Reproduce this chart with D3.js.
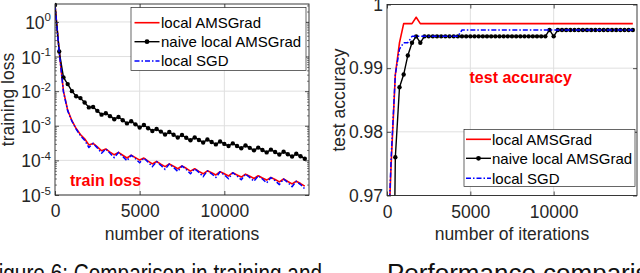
<!DOCTYPE html>
<html>
<head>
<meta charset="utf-8">
<script src="https://cdn.jsdelivr.net/npm/d3@7/dist/d3.min.js"></script>
<style>
  body { margin: 0; background: #fff; }
  text { font-family: "Liberation Sans", Arial, Helvetica, sans-serif; }
</style>
</head>
<body>
<svg id="fig" width="640" height="273"></svg>
<script>
// iterations where loss / accuracy were recorded
const iterations = [0, 250, 500, 750, 1000, 1250, 1500, 1750, 2000, 2250,
  2500, 2750, 3000, 3250, 3500, 3750, 4000, 4250, 4500, 4750,
  5000, 5250, 5500, 5750, 6000, 6250, 6500, 6750, 7000, 7250,
  7500, 7750, 8000, 8250, 8500, 8750, 9000, 9250, 9500, 9750,
  10000, 10250, 10500, 10750, 11000, 11250, 11500, 11750, 12000, 12250,
  12500, 12750, 13000, 13250, 13500, 13750, 14000, 14250, 14500, 14750];

// training loss
const lossLocalAMSGrad = [3.1, 0.14, 0.010, 0.0028, 0.0014, 8.3e-4, 5.6e-4, 4.2e-4, 2.8e-4, 3.1e-4,
  2.45e-4, 1.9e-4, 2.14e-4, 1.74e-4, 1.45e-4, 1.7e-4, 1.41e-4, 1.17e-4, 1.41e-4, 1.2e-4,
  1.02e-4, 1.17e-4, 9.5e-5, 7.9e-5, 9.3e-5, 7.8e-5, 6.6e-5, 7.9e-5, 6.8e-5, 5.75e-5,
  6.9e-5, 5.9e-5, 4.9e-5, 5.75e-5, 4.8e-5, 4.1e-5, 5.0e-5, 4.4e-5, 3.8e-5, 4.7e-5,
  4.1e-5, 3.55e-5, 4.4e-5, 3.8e-5, 3.3e-5, 4.0e-5, 3.5e-5, 3.0e-5, 3.6e-5, 3.1e-5,
  2.7e-5, 3.2e-5, 2.8e-5, 2.4e-5, 2.9e-5, 2.45e-5, 2.1e-5, 2.5e-5, 2.14e-5, 1.8e-5];
const lossNaiveAMSGrad = [3.1, 0.14, 0.025, 0.016, 0.010, 0.0071, 0.0063, 0.0047, 0.0034, 0.0035,
  0.0027, 0.0021, 0.0023, 0.0019, 0.00155, 0.0018, 0.00145, 0.00117, 0.00135, 0.0011,
  0.00089, 0.00105, 0.00085, 0.00071, 0.00081, 0.00068, 0.00056, 0.00066, 0.00055, 0.00046,
  0.00054, 0.00045, 0.00038, 0.00046, 0.00039, 0.00033, 0.00040, 0.00034, 0.00029, 0.00035,
  0.00030, 0.00026, 0.00031, 0.00026, 0.000224, 0.00027, 0.00023, 0.000195, 0.000234, 0.00020,
  0.00017, 0.000204, 0.000174, 0.000148, 0.000178, 0.000151, 0.000129, 0.000155, 0.000132, 0.000112];
const lossLocalSGD = [3.1, 0.13, 0.0095, 0.0027, 1.35e-3, 8.0e-4, 5.2e-4, 3.8e-4, 2.35e-4, 3.1e-4,
  2.3e-4, 1.6e-4, 2.14e-4, 1.6e-4, 1.2e-4, 1.7e-4, 1.3e-4, 9.8e-5, 1.41e-4, 1.12e-4,
  8.5e-5, 1.17e-4, 8.9e-5, 6.6e-5, 9.3e-5, 7.2e-5, 5.5e-5, 7.9e-5, 6.3e-5, 4.8e-5,
  6.9e-5, 5.5e-5, 4.1e-5, 5.75e-5, 4.5e-5, 3.4e-5, 5.0e-5, 4.1e-5, 3.2e-5, 4.7e-5,
  3.8e-5, 2.95e-5, 4.4e-5, 3.55e-5, 2.75e-5, 4.0e-5, 3.2e-5, 2.5e-5, 3.6e-5, 2.9e-5,
  2.24e-5, 3.2e-5, 2.6e-5, 2.0e-5, 2.9e-5, 2.3e-5, 1.74e-5, 2.5e-5, 2.0e-5, 1.5e-5];

// test accuracy
const accLocalAMSGrad = [0.958, 0.975, 0.989, 0.994, 0.997, 0.997, 0.997, 0.998, 0.997, 0.997,
  0.997, 0.997, 0.997, 0.997, 0.997, 0.997, 0.997, 0.997, 0.997, 0.997,
  0.997, 0.997, 0.997, 0.997, 0.997, 0.997, 0.997, 0.997, 0.997, 0.997,
  0.997, 0.997, 0.997, 0.997, 0.997, 0.997, 0.997, 0.997, 0.997, 0.997,
  0.997, 0.997, 0.997, 0.997, 0.997, 0.997, 0.997, 0.997, 0.997, 0.997,
  0.997, 0.997, 0.997, 0.997, 0.997, 0.997, 0.997, 0.997, 0.997, 0.997];
const accNaiveAMSGrad = [0.11, 0.92, 0.976, 0.987, 0.989, 0.992, 0.994, 0.995, 0.994, 0.995,
  0.995, 0.995, 0.995, 0.995, 0.995, 0.995, 0.995, 0.995, 0.995, 0.995,
  0.995, 0.995, 0.995, 0.995, 0.995, 0.995, 0.995, 0.995, 0.995, 0.995,
  0.995, 0.995, 0.995, 0.995, 0.995, 0.995, 0.995, 0.995, 0.995, 0.996,
  0.995, 0.996, 0.996, 0.996, 0.996, 0.996, 0.996, 0.996, 0.996, 0.996,
  0.996, 0.996, 0.996, 0.996, 0.996, 0.996, 0.996, 0.996, 0.996, 0.996];
const accLocalSGD = [0.958, 0.976, 0.989, 0.993, 0.994, 0.994, 0.995, 0.995, 0.995, 0.995,
  0.995, 0.995, 0.995, 0.995, 0.995, 0.995, 0.995, 0.995, 0.996, 0.996,
  0.996, 0.996, 0.996, 0.996, 0.996, 0.996, 0.996, 0.996, 0.996, 0.996,
  0.996, 0.996, 0.996, 0.996, 0.996, 0.996, 0.996, 0.996, 0.996, 0.996,
  0.996, 0.996, 0.996, 0.996, 0.996, 0.996, 0.996, 0.996, 0.996, 0.996,
  0.996, 0.996, 0.996, 0.996, 0.996, 0.996, 0.996, 0.996, 0.996, 0.996];

const seriesNames = ["local AMSGrad", "naive local AMSGrad", "local SGD"];
const iterTicks = [0, 5000, 10000];
const lossTicks = [1, 1e-1, 1e-2, 1e-3, 1e-4, 1e-5];
const lossTickExp = ["0", "-1", "-2", "-3", "-4", "-5"];
const accTicks = [0.97, 0.98, 0.99, 1];
const accTickLabels = ["0.97", "0.98", "0.99", "1"];

const svg = d3.select("#fig");
const axisColor = "#262626";
const gridColor = "#dfdfdf";
const fs = 17.5;
const styles = [
  { color: "#ff0000", dash: null, width: 1.6, marker: false },
  { color: "#000000", dash: null, width: 1.4, marker: true },
  { color: "#0000ff", dash: "5,2,1.5,2", width: 1.5, marker: false }
];

// scales
const xLoss = d3.scaleLinear().domain([0, 15000]).range([55, 309]);
const yLoss = d3.scaleLog().domain([1e-5, 3.3]).range([195, 4]);
const xAcc = d3.scaleLinear().domain([0, 15000]).range([387, 637]);
const yAcc = d3.scaleLinear().domain([0.97, 1]).range([195.5, 4.5]);

function drawPanel(id, x, y, yTickValues, yFormat, series) {
  const [left, right] = x.range();
  const [bottom, top] = y.range();
  const g = svg.append("g");

  g.append("clipPath").attr("id", id).append("rect")
    .attr("x", left).attr("y", top - 3).attr("width", right - left).attr("height", bottom - top + 3);

  // grid
  g.append("g").selectAll("line").data(iterTicks.filter(d => d > 0)).join("line")
    .attr("x1", d => x(d)).attr("x2", d => x(d)).attr("y1", top).attr("y2", bottom)
    .attr("stroke", gridColor).attr("stroke-width", 1);
  g.append("g").selectAll("line").data(yTickValues).join("line")
    .attr("x1", left).attr("x2", right).attr("y1", d => y(d)).attr("y2", d => y(d))
    .attr("stroke", gridColor).attr("stroke-width", 1);

  // series
  const line = d3.line().x((d, i) => x(iterations[i])).y(d => y(d));
  series.forEach((vals, k) => {
    const st = styles[k];
    const sg = g.append("g").attr("clip-path", `url(#${id})`);
    sg.append("path").datum(vals).attr("d", line)
      .attr("fill", "none").attr("stroke", st.color).attr("stroke-width", st.width)
      .attr("stroke-dasharray", st.dash).attr("stroke-linejoin", "round");
    if (st.marker) {
      sg.selectAll("circle").data(vals).join("circle")
        .attr("cx", (d, i) => x(iterations[i])).attr("cy", d => y(d))
        .attr("r", 2.2).attr("fill", st.color);
    }
  });

  // axes with inward ticks
  g.append("g").attr("transform", `translate(0,${bottom})`)
    .call(d3.axisBottom(x).tickValues(iterTicks).tickSize(-4).tickPadding(10).tickFormat(d3.format("d")));
  g.append("g").attr("transform", `translate(0,${top})`)
    .call(d3.axisTop(x).tickValues(iterTicks).tickSize(-4).tickFormat(""));
  g.append("g").attr("transform", `translate(${left},0)`)
    .call(d3.axisLeft(y).tickValues(yTickValues).tickSize(-4).tickPadding(4).tickFormat(yFormat));
  g.append("g").attr("transform", `translate(${right},0)`)
    .call(d3.axisRight(y).tickValues(yTickValues).tickSize(-4).tickFormat(""));

  g.selectAll(".domain").remove();
  g.selectAll(".tick line").attr("stroke", axisColor).attr("stroke-width", 0.8);
  g.selectAll(".tick text").attr("font-size", fs).attr("fill", axisColor)
    .attr("font-family", '"Liberation Sans", Arial, sans-serif');

  // box
  g.append("rect").attr("x", left).attr("y", top)
    .attr("width", right - left).attr("height", bottom - top)
    .attr("fill", "none").attr("stroke", axisColor).attr("stroke-width", 0.9);

  // x label
  g.append("text").attr("x", (left + right) / 2).attr("y", 240)
    .attr("text-anchor", "middle").attr("font-size", fs).attr("fill", axisColor)
    .text("number of iterations");
  return g;
}

function drawLegend(box, rowY, sampleX, textX) {
  const g = svg.append("g");
  g.append("rect").attr("x", box.x).attr("y", box.y).attr("width", box.w).attr("height", box.h)
    .attr("fill", "#fff").attr("stroke", axisColor).attr("stroke-width", 0.7);
  seriesNames.forEach((name, k) => {
    const st = styles[k];
    g.append("line").attr("x1", sampleX[0]).attr("x2", sampleX[1])
      .attr("y1", rowY[k]).attr("y2", rowY[k])
      .attr("stroke", st.color).attr("stroke-width", st.width)
      .attr("stroke-dasharray", st.dash);
    if (st.marker) {
      g.append("circle").attr("cx", (sampleX[0] + sampleX[1]) / 2).attr("cy", rowY[k])
        .attr("r", 2.4).attr("fill", st.color);
    }
    g.append("text").attr("x", textX).attr("y", rowY[k] + 5.3)
      .attr("font-size", 15).attr("fill", "#000").text(name);
  });
}

// left panel: training loss (log axis)
const gL = drawPanel("clipL", xLoss, yLoss, lossTicks, () => "",
  [lossLocalAMSGrad, lossNaiveAMSGrad, lossLocalSGD]);

// minor log ticks
const minor = yLoss.ticks().filter(d => Math.abs(Math.log10(d) - Math.round(Math.log10(d))) > 1e-6);
gL.append("g").attr("transform", `translate(${xLoss.range()[0]},0)`)
  .call(d3.axisLeft(yLoss).tickValues(minor).tickSize(-2).tickFormat(""))
  .call(s => s.select(".domain").remove())
  .selectAll("line").attr("stroke", axisColor).attr("stroke-width", 0.6);
gL.append("g").attr("transform", `translate(${xLoss.range()[1]},0)`)
  .call(d3.axisRight(yLoss).tickValues(minor).tickSize(-2).tickFormat(""))
  .call(s => s.select(".domain").remove())
  .selectAll("line").attr("stroke", axisColor).attr("stroke-width", 0.6);

// power-of-ten labels
const powLabels = gL.append("g").selectAll("text").data(lossTicks).join("text")
  .attr("x", 51).attr("y", d => yLoss(d) + 7)
  .attr("text-anchor", "end").attr("font-size", fs).attr("fill", axisColor);
powLabels.append("tspan").text("10");
powLabels.append("tspan").attr("dy", -7.5).attr("font-size", 11.5).text((d, i) => lossTickExp[i]);

svg.append("text").attr("transform", "translate(14,99.5) rotate(-90)")
  .attr("text-anchor", "middle").attr("font-size", fs).attr("fill", axisColor)
  .text("training loss");

drawLegend({ x: 131, y: 7.5, w: 175, h: 63 }, [22.7, 41.7, 61], [134.5, 159.5], 161);

svg.append("text").attr("x", 70).attr("y", 186)
  .attr("font-size", 16).attr("font-weight", "bold").attr("fill", "#ff0000")
  .text("train loss");

// right panel: test accuracy
drawPanel("clipR", xAcc, yAcc, accTicks, (d, i) => accTickLabels[i],
  [accLocalAMSGrad, accNaiveAMSGrad, accLocalSGD]);

svg.append("text").attr("transform", "translate(345,100) rotate(-90)")
  .attr("text-anchor", "middle").attr("font-size", fs).attr("fill", axisColor)
  .text("test accuracy");

svg.append("text").attr("x", 469.5).attr("y", 83)
  .attr("font-size", 16).attr("font-weight", "bold").attr("fill", "#ff0000")
  .text("test accuracy");

drawLegend({ x: 464, y: 129.5, w: 171, h: 57 }, [139.3, 158.3, 178.3], [466, 491], 492);

// caption lines cut off at the bottom of the picture
svg.append("text").attr("x", -14).attr("y", 282)
  .attr("font-family", '"Liberation Serif", "DejaVu Serif", serif')
  .attr("font-size", 26).attr("fill", "#111")
  .attr("textLength", 336).attr("lengthAdjust", "spacingAndGlyphs")
  .text("Figure 6: Comparison in training and");
svg.append("text").attr("x", 387).attr("y", 282)
  .attr("font-family", '"Liberation Serif", "DejaVu Serif", serif')
  .attr("font-size", 26).attr("fill", "#111")
  .text("Performance comparison in");
</script>
</body>
</html>
